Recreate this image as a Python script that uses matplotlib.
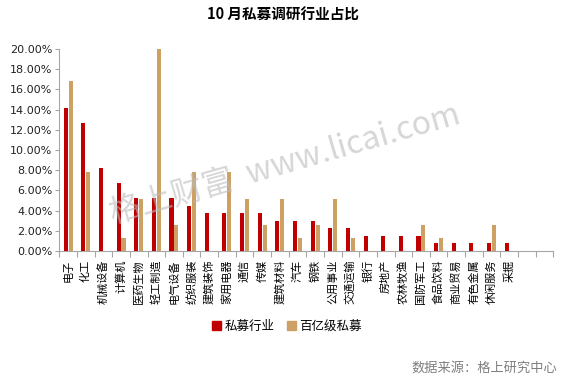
import matplotlib
matplotlib.use("Agg")
import matplotlib.pyplot as plt
import numpy as np
from matplotlib.patches import Patch

plt.rcParams['font.family'] = ['Noto Sans CJK SC', 'DejaVu Sans']

categories = ["电子", "化工", "机械设备", "计算机", "医药生物", "轻工制造", "电气设备", "纺织服装",
              "建筑装饰", "家用电器", "通信", "传媒", "建筑材料", "汽车", "钢铁", "公用事业",
              "交通运输", "银行", "房地产", "农林牧渔", "国防军工", "食品饮料", "商业贸易",
              "有色金属", "休闲服务", "采掘", "", ""]
private_industry = [14.18, 12.69, 8.21, 6.72, 5.22, 5.22, 5.22, 4.48,
                    3.73, 3.73, 3.73, 3.73, 2.99, 2.99, 2.99, 2.24,
                    2.24, 1.49, 1.49, 1.49, 1.49, 0.75, 0.75,
                    0.75, 0.75, 0.75, 0, 0]
top_private = [16.88, 7.79, 0, 1.30, 5.19, 20.0, 2.60, 7.79,
               0, 7.79, 5.19, 2.60, 5.19, 1.30, 2.60, 5.19,
               1.30, 0, 0, 0, 2.60, 1.30, 0,
               0, 2.60, 0, 0, 0]
series_names = ["私募行业", "百亿级私募"]
yticks = [0, 2, 4, 6, 8, 10, 12, 14, 16, 18, 20]

red = "#C00000"
tan = "#CDA063"
W, H = 567, 379
fig = plt.figure(figsize=(W / 100, H / 100), dpi=100)
ax = fig.add_axes([59.3 / W, 1 - 251 / H, (553.3 - 59.3) / W, (251 - 49) / H])

x = np.arange(len(categories))
bw = 0.23
ax.bar(x - 0.14, private_industry, width=bw, color=red, zorder=3)
ax.bar(x + 0.14, top_private, width=bw, color=tan, zorder=3)

ax.set_xlim(-0.5, len(categories) - 0.5)
ax.set_ylim(0, 20)
ax.set_yticks(yticks)
ax.set_yticklabels([f"{v:.2f}%" for v in yticks], family='DejaVu Sans', fontsize=8, color='#222222')

ax.set_xticks(np.arange(len(categories) + 1) - 0.5)
ax.set_xticklabels([])
ax.set_xticks(x, minor=True)
ax.set_xticklabels(categories, minor=True, rotation=90, fontsize=8, va='top', ha='center')
ax.tick_params(axis='x', which='minor', length=0, pad=6)
ax.tick_params(axis='x', which='major', length=4, color='#A6A6A6', width=0.8)
ax.tick_params(axis='y', length=3, color='#A6A6A6', width=0.8, pad=2)

for s in ['top', 'right']:
    ax.spines[s].set_visible(False)
for s in ['left', 'bottom']:
    ax.spines[s].set_color('#A6A6A6')
    ax.spines[s].set_linewidth(0.8)

fig.text(283 / W, 1 - 15 / H, "10 月私募调研行业占比", ha='center', va='center', fontsize=10.5, fontweight='bold')

handles = [Patch(color=red), Patch(color=tan)]
fig.legend(handles, series_names, loc='center', bbox_to_anchor=(287 / W, 1 - 326 / H), ncol=2,
           frameon=False, fontsize=9, handlelength=0.7, handleheight=0.7, handletextpad=0.3, columnspacing=1.0)

fig.text(557 / W, 1 - 368 / H, "数据来源：格上研究中心", ha='right', va='center', fontsize=9.5, color='#7F7F7F')

fig.text(285 / W, 1 - 165 / H, "格上财富  www.licai.com", ha='center', va='center', fontsize=23,
         color='#BBBBBB', alpha=0.6, rotation=16, zorder=5)

fig.savefig("out.png", dpi=100)
